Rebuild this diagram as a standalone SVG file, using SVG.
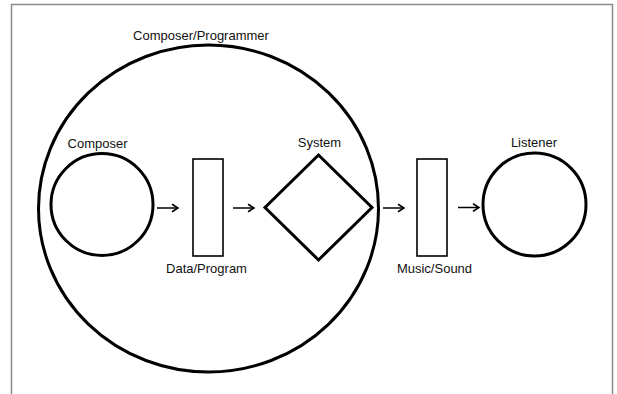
<svg xmlns="http://www.w3.org/2000/svg" width="617" height="394" viewBox="0 0 617 394">
  <defs>
    <style>
      .frame { fill: none; stroke: #8a8a8a; stroke-width: 1.5; }
      .shape { fill: none; stroke: #000; stroke-width: 3; }
      .box { fill: none; stroke: #000; stroke-width: 1.6; }
      .conn { fill: none; stroke: #000; stroke-width: 1.5; }
      .head { fill: none; stroke: #000; stroke-width: 1.5; stroke-linecap: round; stroke-linejoin: miter; }
      .label { font-family: "Liberation Sans", Arial, sans-serif; font-size: 13px; fill: #111; text-anchor: middle; }
    </style>
  </defs>
  <rect width="617" height="394" fill="#fff"/>
  <rect class="frame" x="11.5" y="4.5" width="601" height="400"/>

  <g id="composer-programmer">
    <ellipse class="shape" cx="208.5" cy="208.5" rx="170" ry="163.5"/>
    <text class="label" x="201" y="40">Composer/Programmer</text>
  </g>

  <g id="composer">
    <circle class="shape" cx="102" cy="204.5" r="51"/>
    <text class="label" x="97.5" y="148">Composer</text>
  </g>

  <g id="data-program">
    <rect class="box" x="193" y="159" width="30" height="97"/>
    <text class="label" x="206.5" y="273">Data/Program</text>
  </g>

  <g id="system">
    <polygon class="shape" points="318.5,155 372,207.5 318.5,260 265,207.5"/>
    <text class="label" x="319.5" y="147">System</text>
  </g>

  <g id="music-sound">
    <rect class="box" x="417" y="159" width="30" height="97"/>
    <text class="label" x="434.5" y="273">Music/Sound</text>
  </g>

  <g id="listener">
    <circle class="shape" cx="534.5" cy="204.5" r="51.5"/>
    <text class="label" x="534" y="147">Listener</text>
  </g>

  <g id="connectors">
    <line class="conn" x1="157" y1="208" x2="178" y2="208"/>
    <polyline class="head" points="172.5,204.5 178,208 172.5,211.5"/>
    <line class="conn" x1="233" y1="208" x2="254" y2="208"/>
    <polyline class="head" points="248.5,204.5 254,208 248.5,211.5"/>
    <line class="conn" x1="383" y1="208" x2="404" y2="208"/>
    <polyline class="head" points="398.5,204.5 404,208 398.5,211.5"/>
    <line class="conn" x1="458" y1="207.5" x2="479" y2="207.5"/>
    <polyline class="head" points="473.5,204 479,207.5 473.5,211"/>
  </g>
</svg>
